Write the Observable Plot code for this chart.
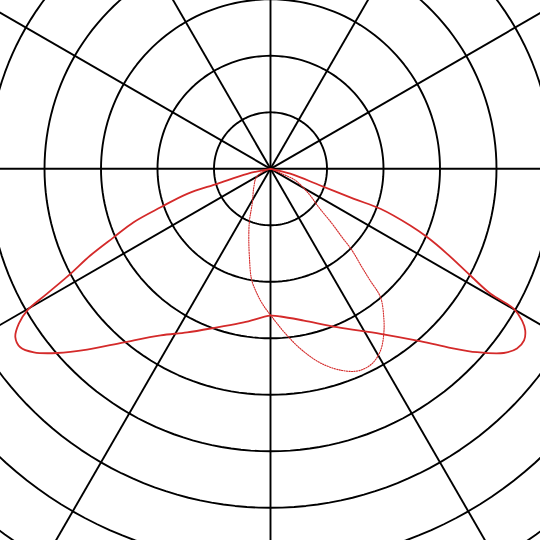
<!DOCTYPE html>
<html>
<head>
<meta charset="utf-8">
<script src="https://cdn.jsdelivr.net/npm/d3@7"></script>
<script src="https://cdn.jsdelivr.net/npm/@observablehq/plot@0.6"></script>
<style>
  html, body { margin: 0; padding: 0; background: #fff; overflow: hidden; }
</style>
</head>
<body>
<div id="chart"></div>
<script>
// Polar luminous intensity diagram: angle from nadir (deg, + to the right), intensity
const ringValues = [100, 200, 300, 400, 500, 600, 700, 800, 900, 1000];
const spokeAngles = [0, 30, 60, 90, 120, 150, 180, 210, 240, 270, 300, 330];

// Solid curve (C0–C180 plane)
const solidAngles = [-90, -77.9, -74.3, -73.3, -70.7, -68.7, -66.4, -64.3, -62.3, -60.8, -59.8, -58.4, -56.6, -54.5, -52.2, -49.2, -45.4, -40.2, -33.4, -27.0, -18.6, -9.9, 0,
  3.9, 12.4, 22.8, 33.7, 40.5, 44.7, 48.4, 51.7, 53.9, 55.9, 57.6, 58.9, 60.1, 60.4, 61.9, 64.3, 66.4, 67.9, 70.0, 70.2, 71.5, 76.0, 90];
const solidValues = [0, 42, 98, 154, 206, 260, 303, 354, 400, 453, 498, 523, 541, 544, 530, 499, 456, 402, 353, 325, 296, 276, 260,
  262, 275, 304, 351, 400, 444, 489, 526, 540, 542, 534, 520, 497, 448, 401, 347, 303, 267, 207, 157, 93, 36, 0];

// Dotted curve (C90–C270 plane)
const dottedAngles = [-90, -67.7, -59.6, -42.2, -27.6, -22.1, -17.6, -13.4, -9.8, -7.0, -3.5, 0.7, 5.2, 9.9, 14.8, 19.6, 23.6, 27.5, 31.2, 34.5, 37.4, 40.6, 41.8, 43.0, 45.0, 46.3, 48.3, 51.5, 56.9, 64.9, 66.9, 90];
const dottedValues = [0, 16, 29, 44, 70, 99, 127, 161, 198, 217, 239, 263, 293, 326, 357, 379, 390, 389, 376, 354, 330, 299, 263, 236, 204, 175, 146, 109, 81, 49, 23, 0];

const rad = d => d * Math.PI / 180;
const toPts = (angles, values) => angles.map((a, i) => ({a, v: values[i]}));
const px = d => d.v * Math.sin(rad(d.a));
const py = d => -d.v * Math.cos(rad(d.a));

const ringPts = ringValues.flatMap(r => d3.range(0, 361, 2).map(a => ({ring: r, a, v: r})));
const spokes = spokeAngles.map(a => ({a, v: 1500}));

const chart = Plot.plot({
  width: 540,
  height: 540,
  margin: 0,
  x: {domain: [-477.9, 477.9], axis: null},
  y: {domain: [-657.9, 297.9], axis: null},
  marks: [
    Plot.line(ringPts, {x: px, y: py, z: "ring", stroke: "#000", strokeWidth: 1.9, clip: true}),
    Plot.link(spokes, {x1: 0, y1: 0, x2: px, y2: py, stroke: "#000", strokeWidth: 1.9, clip: true}),
    Plot.line(toPts(dottedAngles, dottedValues), {x: px, y: py, stroke: "#d42a2a", strokeWidth: 1.1, strokeDasharray: "1.2,1.3", curve: "catmull-rom", clip: true}),
    Plot.line(toPts(solidAngles, solidValues), {x: px, y: py, stroke: "#d42a2a", strokeWidth: 1.8, curve: "catmull-rom", clip: true})
  ]
});
document.getElementById("chart").appendChild(chart);
</script>
</body>
</html>
